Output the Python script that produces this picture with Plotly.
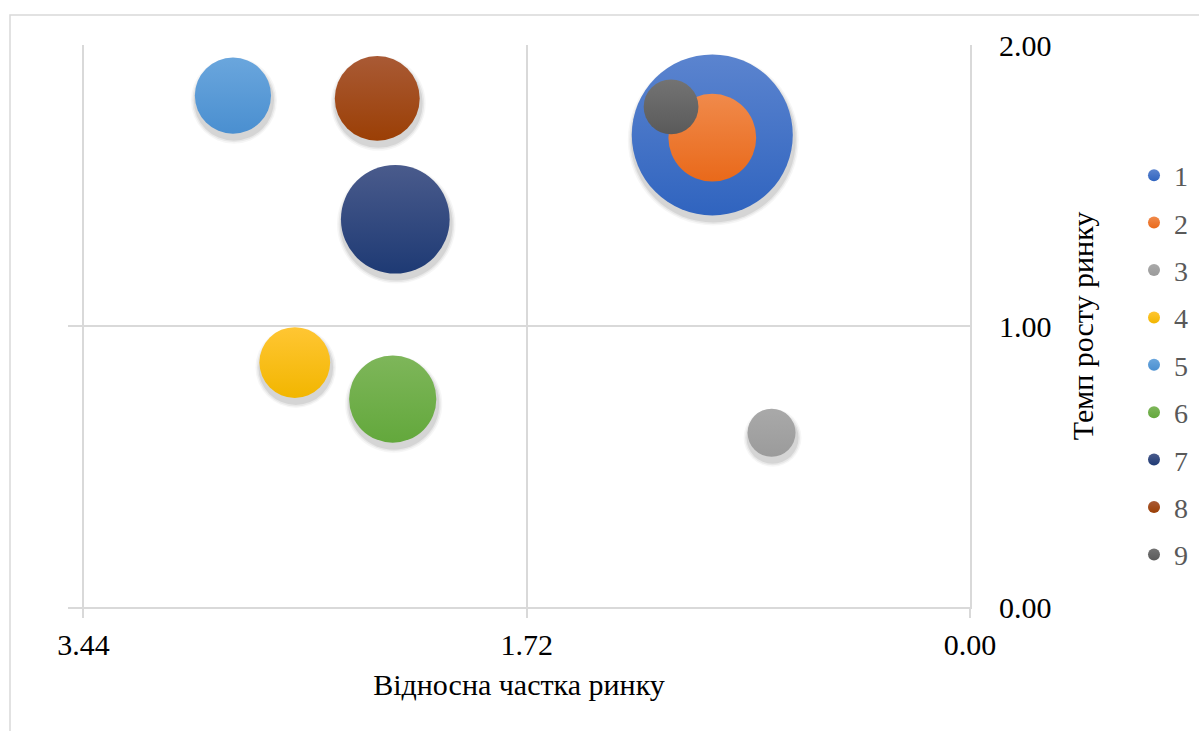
import plotly.graph_objects as go

# Portfolio positions: relative market share (x), market growth rate (y), bubble volume
labels = ["1", "2", "3", "4", "5", "6", "7", "8", "9"]
market_share = [1.00, 1.00, 0.77, 2.62, 2.86, 2.24, 2.23, 2.30, 1.16]
growth_rate = [1.68, 1.67, 0.62, 0.87, 1.82, 0.74, 1.38, 1.81, 1.78]
volume = [259, 77, 23, 50, 58, 76, 118, 72, 30]

# Office-style palette: top (lighter) and bottom (deeper) shades of each bubble
top_colors = ["#5b84cf", "#f08a4b", "#a9a9a9", "#ffc633", "#6aa6dd", "#7eb65a", "#4a5b8c", "#a95a35", "#737373"]
bottom_colors = ["#3064bf", "#e9691a", "#9b9b9b", "#f2b600", "#4a8fd0", "#63a83c", "#1e3a74", "#9b3f05", "#5a5a5a"]

x_ticks = [3.44, 1.72, 0.00]
y_ticks = [0.00, 1.00, 2.00]

W, H = 1199, 731
ML, MR, MT, MB = 68, 229, 45, 124
PW, PH = W - ML - MR, H - MT - MB
X_RANGE = [3.5, 0.0]
Y_RANGE = [0.0, 2.0]
MAX_DIAM = 161  # pixel diameter of the largest bubble

vmax = max(volume)
diam = [MAX_DIAM * (v / vmax) ** 0.5 for v in volume]

px_x = (X_RANGE[0] - X_RANGE[1]) / PW
px_y = (Y_RANGE[1] - Y_RANGE[0]) / PH

FONT = "Liberation Serif, Times New Roman, serif"
GRID = "#d9d9d9"

fig = go.Figure()

# soft drop shadows beneath the bubbles
shadow_layers = [(10, 0.035), (7, 0.055), (4, 0.08)]
for grow, alpha in shadow_layers:
    fig.add_trace(go.Scatter(
        x=[v - 1 * px_x for v in market_share],
        y=[v - 5 * px_y for v in growth_rate],
        mode="markers",
        marker=dict(size=[d + grow for d in diam], color=f"rgba(0,0,0,{alpha})",
                    opacity=1, line=dict(width=0)),
        showlegend=False, hoverinfo="skip",
    ))

for i, lab in enumerate(labels):
    fig.add_trace(go.Scatter(
        x=[market_share[i]], y=[growth_rate[i]],
        mode="markers", name=lab, legendgroup=lab,
        marker=dict(size=[volume[i]], sizemode="area",
                    sizeref=2 * vmax / MAX_DIAM ** 2,
                    color=top_colors[i], opacity=1,
                    gradient=dict(type="vertical", color=bottom_colors[i]),
                    line=dict(width=0)),
    ))

fig.update_layout(
    width=W, height=H,
    margin=dict(l=ML, r=MR, t=MT, b=MB, pad=0, autoexpand=False),
    paper_bgcolor="white", plot_bgcolor="white",
    font=dict(family=FONT, size=30, color="#000000"),
    showlegend=True,
    legend=dict(
        x=(1134 - ML) / PW, xanchor="left",
        y=(MT + PH - 365) / PH, yanchor="middle",
        font=dict(family=FONT, size=28, color="#595959"),
        itemsizing="constant", traceorder="grouped", tracegroupgap=8,
        itemwidth=30,
        bgcolor="rgba(0,0,0,0)",
    ),
    xaxis=dict(
        range=X_RANGE, tickvals=x_ticks, tickformat=".2f",
        showgrid=True, gridcolor=GRID, gridwidth=2,
        showline=True, linecolor=GRID, linewidth=2,
        ticks="outside", ticklen=9, tickwidth=2, tickcolor=GRID,
        ticklabelstandoff=1, automargin=False,
        zeroline=False,
        tickfont=dict(family=FONT, size=30, color="#000000"),
        title=dict(text="Відносна частка ринку", standoff=14,
                   font=dict(family=FONT, size=30, color="#000000")),
    ),
    yaxis=dict(
        range=Y_RANGE, tickvals=y_ticks, tickformat=".2f", side="right",
        showgrid=True, gridcolor=GRID, gridwidth=2,
        showline=True, linecolor=GRID, linewidth=2,
        ticks="", ticklabelstandoff=21, automargin=False,
        zeroline=False,
        tickfont=dict(family=FONT, size=30, color="#000000"),
        title=dict(text="Темп росту ринку", standoff=21,
                   font=dict(family=FONT, size=30, color="#000000")),
    ),
    shapes=[dict(
        type="rect", xref="paper", yref="paper", layer="below",
        x0=(10 - ML) / PW, x1=(W + 10 - ML) / PW,
        y0=-(H + 10 - MT - PH) / PH, y1=(MT + PH - 15) / PH,
        line=dict(color=GRID, width=1.5), fillcolor="rgba(0,0,0,0)",
    )],
)

fig.write_html("out.html")
